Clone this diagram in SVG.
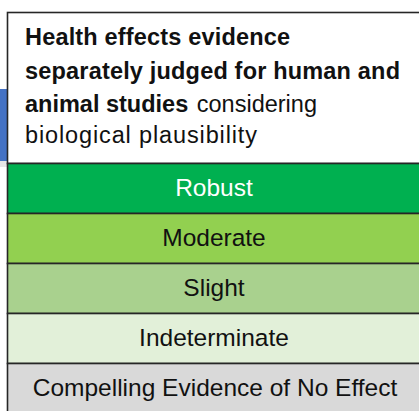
<svg xmlns="http://www.w3.org/2000/svg" width="419" height="411" viewBox="0 0 419 411">
  <style>
    .box { stroke: #262626; stroke-width: 1.6; }
    .lbl { font-family: "Liberation Sans", Arial, sans-serif; font-size: 24.5px; text-anchor: middle; fill: #111; }
    .head { font-family: "Liberation Sans", Arial, sans-serif; font-size: 23.5px; fill: #111; }
    .b { font-weight: bold; }
  </style>
  <rect width="419" height="411" fill="#ffffff"/>
  <!-- blue strip peeking out at the left -->
  <rect x="0" y="89" width="8" height="72" fill="#4472C4"/>
  <rect x="0" y="161" width="8" height="6" fill="#e6e6e6"/>

  <g id="header">
    <rect class="box" x="7.5" y="12.5" width="420" height="151" fill="#ffffff"/>
    <text class="head">
      <tspan class="b" x="25" y="45" textLength="265" lengthAdjust="spacing">Health effects evidence</tspan>
      <tspan class="b" x="25" y="78.5" textLength="375" lengthAdjust="spacing">separately judged for human and</tspan>
      <tspan x="25" y="112"><tspan class="b">animal studies</tspan> <tspan dx="2">considering</tspan></tspan>
      <tspan x="25" y="143" textLength="232" lengthAdjust="spacing">biological plausibility</tspan>
    </text>
  </g>

  <g id="robust">
    <rect class="box" x="7.5" y="163.5" width="420" height="50" fill="#00B050"/>
    <text class="lbl" x="214" y="196" style="fill:#ffffff">Robust</text>
  </g>
  <g id="moderate">
    <rect class="box" x="7.5" y="213.5" width="420" height="50" fill="#92D050"/>
    <text class="lbl" x="214" y="246">Moderate</text>
  </g>
  <g id="slight">
    <rect class="box" x="7.5" y="263.5" width="420" height="50" fill="#A9D18E"/>
    <text class="lbl" x="214" y="296">Slight</text>
  </g>
  <g id="indeterminate">
    <rect class="box" x="7.5" y="313.5" width="420" height="50" fill="#E2F0D9"/>
    <text class="lbl" x="214" y="346">Indeterminate</text>
  </g>
  <g id="no-effect">
    <rect class="box" x="7.5" y="363.5" width="420" height="60" fill="#D9D9D9"/>
    <text class="lbl" x="215" y="396">Compelling Evidence of No Effect</text>
  </g>
  <g id="connectors"/>
</svg>
